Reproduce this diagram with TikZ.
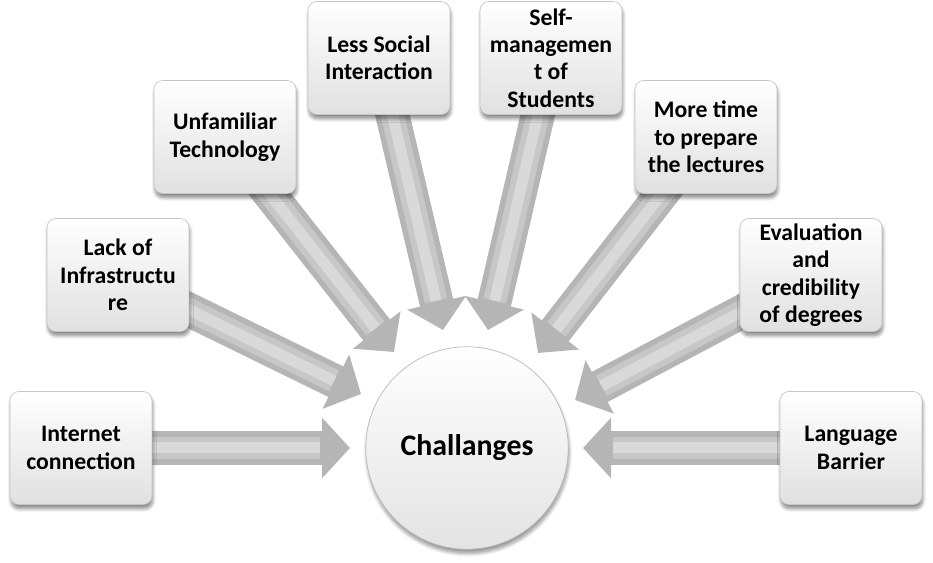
\documentclass[tikz,border=0pt]{standalone}
\usepackage{fontspec}
\setmainfont{Carlito}
\usetikzlibrary{arrows.meta,backgrounds,shadows.blur}

\begin{document}
\begin{tikzpicture}[x=0.02cm,y=-0.02cm,
 box/.style={draw=gray!45,rounded corners=5pt,top color=white,bottom color=gray!24,minimum width=2.84cm,minimum height=2.26cm,inner sep=1pt,align=center,font=\fontsize{13.5}{15.6}\selectfont\bfseries,blur shadow={shadow blur steps=6,shadow xshift=0.5pt,shadow yshift=-2.5pt,shadow opacity=45}},
 hub/.style={circle,draw=gray!55,top color=white,bottom color=gray!22,minimum size=4.05cm,font=\fontsize{17}{19}\selectfont\bfseries,blur shadow={shadow blur steps=6,shadow xshift=0.5pt,shadow yshift=-2.5pt,shadow opacity=40}},
 ar/.style={line width=0.68cm,draw=gray!58,-{Triangle[length=0.56cm,width=1.18cm]}},
 armid/.style={line width=0.46cm,draw=gray!44,shorten >=0.6cm},
 arin/.style={line width=0.22cm,draw=gray!30,shorten >=0.6cm}]
\useasboundingbox (0,0) rectangle (933,563);
\node[hub] (ch) at (467,448) {Challanges};
\node[box] (inet) at (81,448) {Internet\\ connection};
\node[box] (lack) at (118,275) {Lack of\\ Infrastructu\\ re};
\node[box] (unf) at (225,137) {Unfamiliar\\ Technology};
\node[box] (less) at (379,58) {Less Social\\ Interaction};
\node[box] (self) at (551,58) {Self-\\ managemen\\ t of\\ Students};
\node[box] (more) at (706,137) {More time\\ to prepare\\ the lectures};
\node[box] (eval) at (811,275) {Evaluation\\ and\\ credibility\\ of degrees};
\node[box] (lang) at (851,448) {Language\\ Barrier};
\coordinate (tinet) at (350,448);
\coordinate (tlack) at (361,394);
\coordinate (tunf) at (394,352);
\coordinate (tless) at (443,330);
\coordinate (tself) at (488,330);
\coordinate (tmore) at (538,353);
\coordinate (teval) at (575,400);
\coordinate (tlang) at (583,448);
\begin{scope}[on background layer]
\foreach \s/\t in {inet/tinet,lack/tlack,unf/tunf,less/tless,self/tself,more/tmore,eval/teval,lang/tlang}{
 \draw[ar] (\s.center) -- (\t);
 \draw[armid] (\s.center) -- (\t);
 \draw[arin] (\s.center) -- (\t);
}
\end{scope}
\end{tikzpicture}
\end{document}
